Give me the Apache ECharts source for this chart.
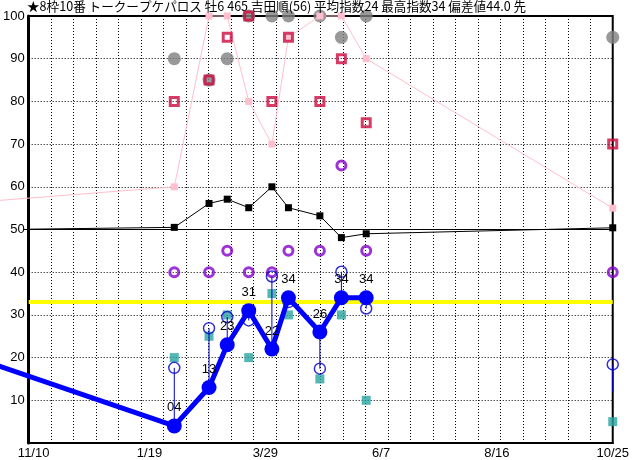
<!DOCTYPE html>
<html><head><meta charset="utf-8">
<script src="https://cdn.jsdelivr.net/npm/echarts@6/dist/echarts.min.js"></script>
<style>html,body{margin:0;padding:0;background:#fff}#c{width:632px;height:460px}</style>
</head><body><div id="c"></div>
<script>
const titleText = '★8枠10番 トークープケパロス 牡6 465 吉田順(56) 平均指数24 最高指数34 偏差値44.0 先';
const baseDate = '2023-11-10';
// first entry = previous race (off the left edge)
const raceDates = ['2023-08-21','2024-02-03','2024-02-24','2024-03-06','2024-03-19','2024-04-02','2024-04-12','2024-05-01','2024-05-14','2024-05-29','2024-10-25'];
const indexVals  = [26, 4, 13, 23, 31, 22, 34, 26, 34, 34, null];
const subVals    = [null, 17.6, 26.9, 29.5, 28.7, 39, 33, 17.4, 40.1, 31.5, 18.4];
const connectEnd = [null, 4, 13, 23, 31, 22, 34, 26, 34, 34, 12];
const pinkVals   = [55, 60, 100, 100, 80, 70, 95, 100, 100, 90, 55];
const blackVals  = [49.7, 50.5, 56.1, 57.1, 55.1, 60, 55.1, 53.2, 48.1, 49, 50.4];
const redVals    = [null, 80, 85, 95, 100, 80, 95, 80, 90, 75, 70];
const grayVals   = [null, 90, 85, 90, 100, 100, 100, 100, 95, 100, 95];
const purpleVals = [null, 40, 40, 45, 40, 40, 45, 45, 65, 45, 40];
const tealVals   = [null, 20, 25, 30, 20, 35, 30, 15, 30, 10, 5];
const level50 = 50;
const yellowLevel = 33;
const xTickDays = [0, 70, 140, 210, 280, 350];

const DAY = 86400000;
const base = Date.parse(baseDate + 'T00:00:00Z');
const days = raceDates.map(d => Math.round((Date.parse(d + 'T00:00:00Z') - base) / DAY));
const X_MIN = -3, X_MAX = 350;
function fmtDay(v){ const d = new Date(base + v*DAY); return (d.getUTCMonth()+1) + '/' + d.getUTCDate(); }
function pairs(vals, from){ const out=[]; vals.forEach((v,i)=>{ if(v!==null && i>=(from||0)) out.push([days[i], v]); }); return out; }
// segment from previous (off-chart) race to first race, drawn without clipping
function leadIn(vals){ return [[days[0], vals[0], days[1], vals[1]]]; }
function leadInSeries(vals, color, width, z){
  return { type:'custom', clip:false, z:z, silent:true, data:leadIn(vals),
    renderItem:(params, api)=>{
      const a = api.coord([api.value(0), api.value(1)]);
      const b = api.coord([api.value(2), api.value(3)]);
      return {type:'line', shape:{x1:a[0], y1:a[1], x2:b[0], y2:b[1]}, style:{stroke:color, lineWidth:width}};
    } };
}

const chart = echarts.init(document.getElementById('c'), null, {renderer:'canvas'});
const NUMFONT = "'Liberation Sans', Arial, sans-serif";
chart.setOption({
  animation:false,
  backgroundColor:'#ffffff',
  title:{ text:titleText, left:27, top:0, padding:0,
    textStyle:{ fontSize:12.6, fontWeight:'normal', color:'#000', fontFamily:"'Noto Sans CJK JP', sans-serif"} },
  grid:{ left:25, right:15, top:16, bottom:17, show:true, borderColor:'#000', borderWidth:2, containLabel:false },
  xAxis:[
    { type:'value', min:X_MIN, max:X_MAX, position:'bottom',
      axisLine:{show:true, onZero:false, lineStyle:{color:'#000', width:2}},
      axisTick:{show:false},
      splitLine:{show:false},
      axisLabel:{ customValues:xTickDays, formatter:v=>fmtDay(v), color:'#000', fontSize:13, margin:4, fontFamily:NUMFONT, showMinLabel:true, showMaxLabel:true } },
    { type:'value', min:0, max:26, interval:1, position:'top', show:true,
      axisLine:{show:false}, axisTick:{show:false}, axisLabel:{show:false},
      splitLine:{show:true, lineStyle:{color:'#000', width:1, type:[1,2]}} }
  ],
  yAxis:{ type:'value', min:0, max:100, interval:10,
    axisLine:{show:true, onZero:false, lineStyle:{color:'#000', width:3}},
    axisTick:{show:false},
    axisLabel:{ color:'#000', fontSize:13, margin:4, fontFamily:NUMFONT, showMinLabel:false },
    splitLine:{show:true, lineStyle:{color:'#000', width:1, type:[1,2]}} },
  series:[
    { type:'custom', name:'50', clip:false, z:2, silent:true, data:[[-6, level50, X_MAX, level50]],
      renderItem:(params, api)=>{
        const a = api.coord([api.value(0), api.value(1)]);
        const b = api.coord([api.value(2), api.value(3)]);
        return {type:'line', shape:{x1:a[0], y1:a[1], x2:b[0], y2:b[1]}, style:{stroke:'#000', lineWidth:1}};
      } },
    { type:'line', name:'yellow', data:[[X_MIN, yellowLevel],[X_MAX, yellowLevel]], symbol:'none', z:2,
      lineStyle:{color:'#ffff00', width:4}, silent:true },
    { type:'line', name:'black', data:pairs(blackVals), clip:true, z:3, symbol:'rect', symbolSize:7,
      itemStyle:{color:'#000'}, lineStyle:{color:'#000', width:1} },
    { type:'scatter', name:'gray', data:pairs(grayVals), clip:false, z:4, symbol:'circle', symbolSize:13,
      itemStyle:{color:'#808080'} },
    leadInSeries(pinkVals, '#ffc0cb', 1, 5),
    { type:'line', name:'pink', data:pairs(pinkVals, 1), clip:false, z:5, symbol:'rect', symbolSize:7,
      itemStyle:{color:'#ffbfcf'}, lineStyle:{color:'#ffc0cb', width:1} },
    { type:'scatter', name:'red', data:pairs(redVals), clip:false, z:6, symbol:'rect', symbolSize:8,
      itemStyle:{color:'transparent', borderColor:'#cc0a40', borderWidth:3} },
    { type:'scatter', name:'purple', data:pairs(purpleVals), clip:false, z:6, symbol:'circle', symbolSize:9,
      itemStyle:{color:'transparent', borderColor:'#8400cc', borderWidth:3} },
    { type:'scatter', name:'teal', data:pairs(tealVals), clip:false, z:7, symbol:'rect', symbolSize:9,
      itemStyle:{color:'#2aa5a0'} },
    { type:'custom', name:'connect', z:8, clip:false,
      data: subVals.map((v,i)=> v===null ? null : [days[i], v, connectEnd[i]]).filter(Boolean),
      renderItem:(params, api)=>{
        const a = api.coord([api.value(0), api.value(1)]);
        const b = api.coord([api.value(0), api.value(2)]);
        return {type:'line', shape:{x1:a[0], y1:a[1], x2:b[0], y2:b[1]}, style:{stroke:'#0000cc', lineWidth:1}};
      } },
    { type:'scatter', name:'sub', data:pairs(subVals), clip:false, z:9, symbol:'circle', symbolSize:11,
      itemStyle:{color:'transparent', borderColor:'#0000cc', borderWidth:1.5} },
    leadInSeries(indexVals, '#0000ff', 5, 10),
    { type:'line', name:'index', data:pairs(indexVals, 1), clip:false, z:10, symbol:'circle', symbolSize:15,
      itemStyle:{color:'#0000ff'}, lineStyle:{color:'#0000ff', width:5},
      label:{show:true, position:'top', distance:4, color:'#000', fontSize:13, fontFamily:NUMFONT,
        formatter:p=>String(p.value[1]).padStart(2,'0')} }
  ]
});
</script></body></html>
